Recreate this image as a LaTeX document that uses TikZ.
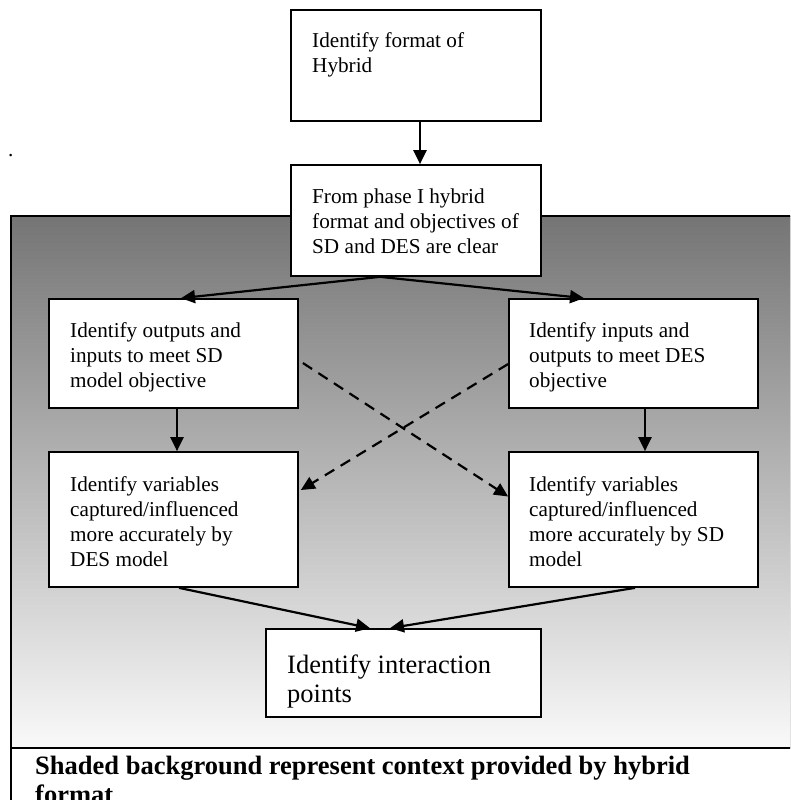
\documentclass[tikz,border=0pt]{standalone}
\usepackage{fontspec}
\setmainfont{Liberation Serif}
\usetikzlibrary{arrows.meta,calc}
\newcommand\mlines[1]{\vtop{\halign{##\hfil\cr#1\crcr}}}
\definecolor{gtop}{RGB}{117,117,117}
\definecolor{gbot}{RGB}{249,249,249}
\begin{document}
\begin{tikzpicture}[x=1pt,y=-1pt,
  box/.style={draw,line width=1.7pt,fill=white,rectangle,inner sep=0pt},
  txt/.style={anchor=base west,inner sep=0pt,font=\fontsize{21.2}{25}\selectfont},
  bigtxt/.style={anchor=base west,inner sep=0pt,font=\fontsize{26.5}{29.5}\selectfont},
  conn/.style={line width=2.2pt,-{Triangle[length=14pt,width=13pt]}},
  dconn/.style={conn,dash pattern=on 11pt off 7.5pt}]
\useasboundingbox (0,0) rectangle (790,800);
\clip (0,0) rectangle (790,800);
% shaded context
\fill[top color=gtop,bottom color=gbot] (11,216) rectangle (800,748);
\draw[line width=1.7pt] (800,216) -- (11,216) -- (11,810);
\draw[line width=1.7pt] (11,748) -- (800,748);
% boxes
\node[box,minimum width=250pt,minimum height=111pt] (b1) at (416,65.5) {};
\node[box,minimum width=250pt,minimum height=111pt] (b2) at (416,220.5) {};
\node[box,minimum width=249pt,minimum height=109pt] (bl) at (173.5,353.5) {};
\node[box,minimum width=249pt,minimum height=109pt] (br) at (633.5,353.5) {};
\node[box,minimum width=249pt,minimum height=135pt] (bl2) at (173.5,519.5) {};
\node[box,minimum width=249pt,minimum height=135pt] (br2) at (633.5,519.5) {};
\node[box,minimum width=275pt,minimum height=88pt] (bi) at (403.5,673) {};
% texts
\node[txt] (dot) at (8,156) {.};
\node[txt] (t1) at (312,48) {\mlines{Identify format of\cr Hybrid}};
\node[txt] (t2) at (312,203) {\mlines{From phase I hybrid\cr format and objectives of\cr SD and DES are clear}};
\node[txt] (tl) at (70,337) {\mlines{Identify outputs and\cr inputs to meet SD\cr model objective}};
\node[txt] (tr) at (529,337) {\mlines{Identify inputs and\cr outputs to meet DES\cr objective}};
\node[txt] (tl2) at (70,491) {\mlines{Identify variables\cr captured/influenced\cr more accurately by\cr DES model}};
\node[txt] (tr2) at (529,491) {\mlines{Identify variables\cr captured/influenced\cr more accurately by SD\cr model}};
\node[bigtxt] (ti) at (287,673) {\mlines{Identify interaction\cr points}};
\node[bigtxt,font=\fontsize{26.5}{29.5}\selectfont\bfseries] (note) at (35,774) {\mlines{Shaded background represent context provided by hybrid\cr format}};
% connectors
\draw[conn] ([xshift=4pt]b1.south) -- ([xshift=4pt]b2.north);
\draw[conn] ([xshift=-36pt]b2.south) -- ([xshift=7.5pt]bl.north);
\draw[conn] ([xshift=-36pt]b2.south) -- ([xshift=-49.5pt]br.north);
\draw[conn] ([xshift=3.5pt]bl.south) -- ([xshift=3.5pt]bl2.north);
\draw[conn] ([xshift=11.5pt]br.south) -- ([xshift=11.5pt]br2.north);
\draw[dconn] ($(bl.east)+(4,9.5)$) -- ($(br2.west)+(0,-23)$);
\draw[dconn] ($(br.west)+(0,10.5)$) -- ($(bl2.east)+(2,-29.5)$);
\draw[conn] ([xshift=5.5pt]bl2.south) -- ([xshift=-33.5pt]bi.north);
\draw[conn] ([xshift=1.5pt]br2.south) -- ([xshift=-13.5pt]bi.north);
\end{tikzpicture}
\end{document}
